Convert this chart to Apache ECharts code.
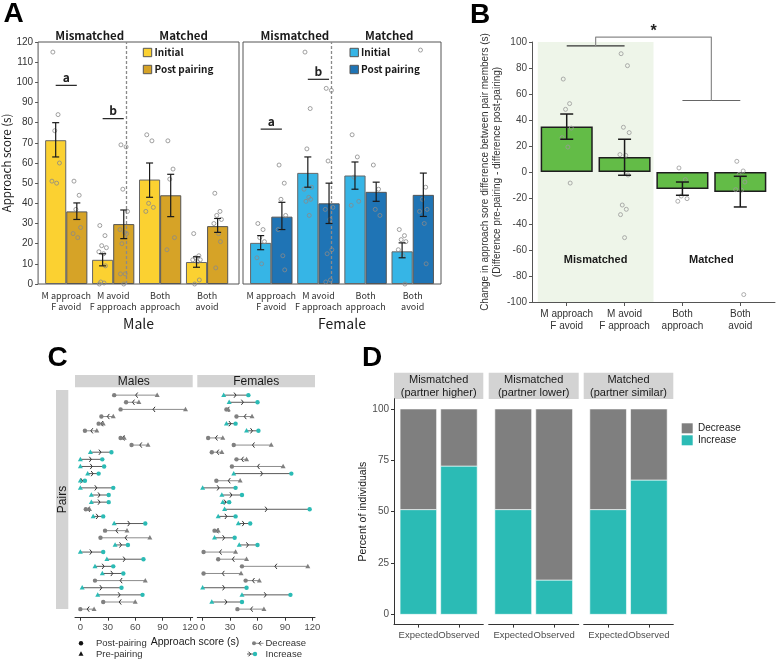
<!DOCTYPE html>
<html><head><meta charset="utf-8">
<script src="https://cdn.jsdelivr.net/npm/echarts@6/dist/echarts.min.js"></script>
<style>html,body{margin:0;padding:0;background:#fff}#c{width:777px;height:661px}</style>
</head><body><div id="c"></div>
<script>
// ---------------- DATA ----------------
const groupsA = ['M approach\nF avoid', 'M avoid\nF approach', 'Both\napproach', 'Both\navoid'];
const headersA = ['Mismatched', 'Matched'];
// Panel A - male
const maleInitial = [71.3, 12, 51.8, 10.9];
const maleInitialLo = [63, 9, 43, 8.3];
const maleInitialHi = [80, 15, 60, 13.5];
const malePost = [36, 29.7, 44, 28.7];
const malePostLo = [32, 22.5, 33.4, 25.6];
const malePostHi = [40.2, 36.7, 54.4, 32.5];
const maleInitDots = [[115,84,76,60,51,50],[29,24,19,18,16,15,9,1,0.5,0],[74,71,40,38,36],[25,14,13,12,12,11,2,0]];
const malePostDots = [[51,44,37,28,25,23],[69,68,47,36,27,25.5,25,20,5,5,0],[71,57,52,23,17],[45,36,34,32,30,25,21,8]];
// Panel A - female
const femInitial = [20.4, 55.1, 53.8, 16.2];
const femInitialLo = [17, 48, 47, 13];
const femInitialHi = [24, 63, 60.5, 20.4];
const femPost = [33.4, 40, 45.7, 44.2];
const femPostLo = [27, 30, 41, 33.5];
const femPostHi = [40.5, 50, 50.5, 55];
const femInitDots = [[30,27,23,21,13,10],[115,87,67,48,47,43,42,41,34],[74,63,53,41,39],[27,24,22,21,17,14,0]];
const femPostDots = [[59,50,42,34,27,14,7],[97,96,61,38,37,32,17,15,2,1],[59,47,37,34],[116,48,42,37,36,30,10]];
const maleSig = [[0.775, 1.225, 98.5], [1.775, 2.225, 82]];
const femSig = [[0.775, 1.225, 76.8], [1.775, 2.225, 101.5]];
const sigLabels = ['a', 'b'];
// Panel B
const bMeans = [35, 11.5, -13, -15.4];
const bLo = [25.2, -2.5, -17.9, -26.9];
const bHi = [44.6, 25.2, -7.7, -3.3];
const bDots = [[71.5,52.6,48.2,33.8,26.4,19.2,-8.5],[91,81.8,34.4,30.3,13.4,12.8,-2.3,-25.4,-28.7,-32.8,-50.5],[3.1,-5.9,-18.5,-20.5,-22.5],[8.2,0.8,-1.8,-7.7,-13.6,-14,-94.3]];
const bLabels = ['Mismatched', 'Matched'];
// Panel C (rows top to bottom)
const malePre  = [84,64,115,36,25,18,48,74,11,0,0,8,0,0,12,12,10,14,37,51,76,38,0,29,16,24,71,2,19,60,15];
const malePostC= [37,50,44,23,20,5,44,56,34,24,26,20,5,36,31,31,6,25,71,27,22,52,25,69,36,47,16,45,68,25,0];
const femPre   = [23,29,28,54,26,48,22,75,21,48,88,34,41,0,21,22,24,17,39,17,13,40,36,48,115,42,62,0,43,10,67];
const femPostC = [50,60,26,37,36,61,6,34,10,37,32,97,15,36,43,29,117,36,52,13,35,60,1,17,43,1,47,48,96,43,38];
const cTicks = [0, 30, 60, 90, 120];
// Panel D
const dFacets = ['Mismatched\n(partner higher)', 'Mismatched\n(partner lower)', 'Matched\n(partner similar)'];
const dCats = ['Expected', 'Observed'];
const dIncrease = [[51, 72.2], [51, 16.7], [51, 65.4]];
const dDecrease = [[49, 27.8], [49, 83.3], [49, 34.6]];
const dTicks = [0, 25, 50, 75, 100];

// ---------------- STYLE ----------------
const FN = '"Noto Sans CJK JP","Liberation Sans",sans-serif';
const FS = '"Liberation Sans",Arial,sans-serif';
const JIT = [-0.06,0.05,-0.02,0.08,-0.08,0.02,0.06,-0.04,0.03,-0.07,0.0,0.07];
const TEAL = '#2BBBB5', GRAY = '#7F7F7F';

function dots(gi, arr, off, color) {
  const data = [];
  arr.forEach((vals, g) => vals.forEach((v, j) => data.push([g + 1 + off + JIT[j % JIT.length], v])));
  return {type:'scatter', xAxisIndex:gi, yAxisIndex:gi, z:5, silent:true, data, symbolSize:4,
    itemStyle:{color:'rgba(0,0,0,0)', borderColor:color, borderWidth:1}};
}
function errSeries(gi, lows, highs, off, cap, color, lw) {
  return {type:'custom', xAxisIndex:gi, yAxisIndex:gi, z:6, silent:true,
    data: lows.map((l, i) => [i + 1, l, highs[i]]), encode:{x:0, y:[1,2]},
    renderItem:(p, api) => {
      const x = api.value(0) + off;
      const lo = api.coord([x, api.value(1)]), hi = api.coord([x, api.value(2)]);
      const s = {stroke:color, lineWidth:lw};
      return {type:'group', children:[
        {type:'line', shape:{x1:lo[0], y1:lo[1], x2:hi[0], y2:hi[1]}, style:s},
        {type:'line', shape:{x1:lo[0]-cap, y1:lo[1], x2:lo[0]+cap, y2:lo[1]}, style:s},
        {type:'line', shape:{x1:hi[0]-cap, y1:hi[1], x2:hi[0]+cap, y2:hi[1]}, style:s}]};
    }};
}
function textSeries(gi, pts, texts, font, color, extra) {
  return {type:'custom', xAxisIndex:gi, yAxisIndex:gi, z:7, silent:true, clip:false,
    data: pts, encode:{x:0, y:1},
    renderItem:(p, api) => {
      const c = api.coord([api.value(0), api.value(1)]);
      return {type:'text', x:c[0], y:c[1], style:Object.assign({text:texts[p.dataIndex], font, fill:color, align:'center', verticalAlign:'middle'}, extra || {})};
    }};
}
function sigSeries(gi, sig) {
  return {type:'custom', xAxisIndex:gi, yAxisIndex:gi, z:7, silent:true, clip:false,
    data: sig, encode:{x:[0,1], y:2},
    renderItem:(p, api) => {
      const a = api.coord([api.value(0), api.value(2)]), b = api.coord([api.value(1), api.value(2)]);
      return {type:'group', children:[
        {type:'line', shape:{x1:a[0], y1:a[1], x2:b[0], y2:b[1]}, style:{stroke:'#222', lineWidth:1.2}},
        {type:'text', x:(a[0]+b[0])/2, y:a[1]-2, style:{text:sigLabels[p.dataIndex], font:'bold 12px ' + FN, fill:'#222', align:'center', verticalAlign:'bottom'}}]};
    }};
}
function dumbbell(gi, pre, post) {
  return {type:'custom', xAxisIndex:gi, yAxisIndex:gi, z:5, silent:true,
    data: pre.map((v, i) => [i + 1, v, post[i]]), encode:{x:[1,2], y:0},
    renderItem:(p, api) => {
      const row = api.value(0), pr = api.value(1), po = api.value(2);
      const a = api.coord([pr, row]), b = api.coord([po, row]);
      const inc = po > pr, y = a[1];
      const pc = inc ? TEAL : '#808080';
      const lc = inc ? '#5a5a5a' : '#8c8c8c';
      const mx = (a[0] + b[0]) / 2, d = inc ? 1 : -1;
      return {type:'group', children:[
        {type:'line', shape:{x1:a[0], y1:y, x2:b[0], y2:y}, style:{stroke:lc, lineWidth:1}},
        {type:'polyline', shape:{points:[[mx - d*2, y-2.6],[mx, y],[mx - d*2, y+2.6]]}, style:{stroke:'#333', fill:null, lineWidth:1}},
        {type:'polygon', shape:{points:[[a[0], y-2.7],[a[0]-2.5, y+1.8],[a[0]+2.5, y+1.8]]}, style:{fill:pc}},
        {type:'circle', shape:{cx:b[0], cy:y, r:2.2}, style:{fill:pc}}]};
    }};
}
function stackBars(gi, inc, dec) {
  return {type:'custom', xAxisIndex:gi, yAxisIndex:gi, z:3, silent:true,
    data: inc.map((v, i) => [i + 1, v, dec[i]]), encode:{x:0, y:[1,2]},
    renderItem:(p, api) => {
      const x = api.value(0), a = api.value(1), b = api.value(2);
      const w = api.size([0.9, 0])[0];
      const p0 = api.coord([x, 0]), p1 = api.coord([x, a]), p2 = api.coord([x, a + b]);
      return {type:'group', children:[
        {type:'rect', shape:{x:p0[0]-w/2, y:p1[1], width:w, height:p0[1]-p1[1]}, style:{fill:TEAL, stroke:'#fff', lineWidth:0.6}},
        {type:'rect', shape:{x:p0[0]-w/2, y:p2[1], width:w, height:p1[1]-p2[1]}, style:{fill:GRAY, stroke:'#fff', lineWidth:0.6}}]};
    }};
}

// ---------------- GRIDS & AXES ----------------
const grids = [
  {left:36, top:42, width:203, height:242, show:true, borderColor:'#555', borderWidth:1},
  {left:243, top:42, width:198, height:242, show:true, borderColor:'#555', borderWidth:1},
  {left:532, top:42, width:243, height:260},
  {left:75, top:388, width:117.7, height:229.7},
  {left:197.3, top:388, width:117.7, height:229.7},
  {left:394, top:398.7, width:89.3, height:225.9},
  {left:488.7, top:398.7, width:90, height:225.9},
  {left:583.7, top:398.7, width:89.6, height:225.9}
];
const xAxes = [
  {gridIndex:0, type:'value', min:0.4, max:4.68, splitLine:{show:false}, axisLine:{show:false, onZero:false}, axisTick:{show:false},
    axisLabel:{show:false}, name:'Male', nameLocation:'middle', nameGap:33,
    nameTextStyle:{fontSize:14, fontFamily:FN, color:'#1a1a1a'}},
  {gridIndex:1, type:'value', min:0.4, max:4.6, splitLine:{show:false}, axisLine:{show:false, onZero:false}, axisTick:{show:false},
    axisLabel:{show:false}, name:'Female', nameLocation:'middle', nameGap:33,
    nameTextStyle:{fontSize:14, fontFamily:FN, color:'#1a1a1a'}},
  {gridIndex:2, type:'value', min:0.4, max:4.6, splitLine:{show:false}, axisLine:{onZero:false, lineStyle:{color:'#555'}},
    axisTick:{customValues:[1,2,3,4], length:4, lineStyle:{color:'#555'}},
    axisLabel:{customValues:[1,2,3,4], formatter:v => groupsA[Math.round(v)-1] || '', fontSize:10, fontFamily:FS, color:'#333', lineHeight:12, margin:6}},
];
[3,4].forEach(gi => xAxes.push({gridIndex:gi, type:'value', min:-5.85, max:122.85, splitLine:{show:false},
  axisLine:{onZero:false, lineStyle:{color:'#333'}}, axisTick:{customValues:cTicks, length:3, lineStyle:{color:'#333'}},
  axisLabel:{customValues:cTicks, fontSize:9.5, fontFamily:FS, color:'#4d4d4d', margin:5}}));
[5,6,7].forEach(gi => xAxes.push({gridIndex:gi, type:'value', min:0.4, max:2.6, splitLine:{show:false},
  axisLine:{onZero:false, lineStyle:{color:'#333'}}, axisTick:{customValues:[1,2], length:3, lineStyle:{color:'#333'}},
  axisLabel:{customValues:[1,2], formatter:v => dCats[Math.round(v)-1] || '', fontSize:9.5, fontFamily:FS, color:'#4d4d4d', margin:6}}));

const yAxes = [
  {gridIndex:0, type:'value', min:0, max:120, interval:10, splitLine:{show:false}, axisLine:{show:false},
    axisTick:{show:true, length:3, lineStyle:{color:'#555'}}, axisLabel:{fontSize:10, fontFamily:FS, color:'#333', margin:5},
    name:'Approach score (s)', nameLocation:'middle', nameGap:21, nameTextStyle:{fontSize:11.5, fontFamily:FN, color:'#1a1a1a'}},
  {gridIndex:1, type:'value', min:0, max:120, interval:10, splitLine:{show:false}, axisLine:{show:false}, axisTick:{show:false}, axisLabel:{show:false}},
  {gridIndex:2, type:'value', min:-100, max:100, interval:20, splitLine:{show:false}, axisLine:{show:true, lineStyle:{color:'#555'}},
    axisTick:{show:true, length:3, lineStyle:{color:'#555'}}, axisLabel:{fontSize:10, fontFamily:FS, color:'#444', margin:5},
    name:'Change in approach sore difference between pair members (s)\n(Difference pre-pairing - difference post-pairing)',
    nameLocation:'middle', nameGap:24, nameTextStyle:{fontSize:10, fontFamily:FS, color:'#333', lineHeight:12}},
  {gridIndex:3, type:'value', min:0, max:32.2, inverse:true, show:false},
  {gridIndex:4, type:'value', min:0, max:32.2, inverse:true, show:false},
  {gridIndex:5, type:'value', min:-5, max:105, splitLine:{show:false}, axisLine:{show:true, lineStyle:{color:'#333'}},
    axisTick:{show:true, customValues:dTicks, length:3, lineStyle:{color:'#333'}},
    axisLabel:{customValues:dTicks, fontSize:10, fontFamily:FS, color:'#4d4d4d', margin:5},
    name:'Percent of individuals', nameLocation:'middle', nameGap:23, nameTextStyle:{fontSize:10.5, fontFamily:FS, color:'#1a1a1a'}},
  {gridIndex:6, type:'value', min:-5, max:105, show:false},
  {gridIndex:7, type:'value', min:-5, max:105, show:false}
];

// ---------------- SERIES ----------------
const series = [];
function panelA(gi, init, post, cInit, cPost, iLo, iHi, pLo, pHi, iDots, pDots, sig) {
  series.push({type:'bar', xAxisIndex:gi, yAxisIndex:gi, data:init.map((v,i)=>[i+1,v]), barWidth:'45%', barGap:'0%', z:3, silent:true,
    itemStyle:{color:cInit, borderColor:'#666', borderWidth:1},
    markLine:{silent:true, symbol:['none','none'], label:{show:false}, lineStyle:{type:[3,2], color:'#8a8a8a', width:1.3}, data:[{xAxis:2.5}]}});
  series.push({type:'bar', xAxisIndex:gi, yAxisIndex:gi, data:post.map((v,i)=>[i+1,v]), barWidth:'45%', barGap:'0%', z:3, silent:true,
    itemStyle:{color:cPost, borderColor:'#555', borderWidth:1}});
  series.push(dots(gi, iDots, -0.225, '#8a8a8a'));
  series.push(dots(gi, pDots, 0.225, '#8a8a8a'));
  series.push(errSeries(gi, iLo, iHi, -0.225, 3.5, '#1a1a1a', 1.2));
  series.push(errSeries(gi, pLo, pHi, 0.225, 3.5, '#1a1a1a', 1.2));
  series.push(sigSeries(gi, sig));
  series.push(textSeries(gi, [[1.5, 123.4], [3.5, 123.4]], headersA, 'bold 11.5px ' + FN, '#1a1a1a'));
  series.push(textSeries(gi, [[1, -3.2], [2, -3.2], [3, -3.2], [4, -3.2]], groupsA, '9px ' + FN, '#333',
    {verticalAlign:'top', lineHeight:10.5}));
}
panelA(0, maleInitial, malePost, '#FBD131', '#D6A327', maleInitialLo, maleInitialHi, malePostLo, malePostHi, maleInitDots, malePostDots, maleSig);
panelA(1, femInitial, femPost, '#36B5E6', '#1F74B5', femInitialLo, femInitialHi, femPostLo, femPostHi, femInitDots, femPostDots, femSig);

// Panel B
series.push({type:'bar', xAxisIndex:2, yAxisIndex:2, z:3, silent:true, data:bMeans.map((v,i)=>[i+1,v]), barWidth:'90%',
  itemStyle:{color:'#63BC47', borderColor:'#1e1e1e', borderWidth:1.5},
  markArea:{silent:true, itemStyle:{color:'#EEF5E9'}, data:[[{xAxis:0.5, yAxis:-100},{xAxis:2.5, yAxis:100}]]}});
series.push(dots(2, bDots, 0, '#9a9a9a'));
series.push(errSeries(2, bLo, bHi, 0, 6.5, '#1a1a1a', 1.5));
const bracket = (pts, color) => ({type:'line', xAxisIndex:2, yAxisIndex:2, data:pts, showSymbol:false, symbol:'none', clip:false, silent:true, z:4,
  lineStyle:{color, width:1.2}});
series.push(bracket([[1,97],[2,97]], '#333'));
series.push(bracket([[3,55],[4,55]], '#666'));
series.push(bracket([[1.5,97],[1.5,103.8],[3.5,103.8],[3.5,55]], '#8a8a8a'));
series.push(textSeries(2, [[2.5, 108]], ['*'], 'bold 16px ' + FS, '#222'));
series.push(textSeries(2, [[1.5, -68], [3.5, -68]], bLabels, 'bold 11px ' + FS, '#1a1a1a'));

// Panel C
series.push(dumbbell(3, malePre, malePostC));
series.push(dumbbell(4, femPre, femPostC));

// Panel D
[0,1,2].forEach(f => series.push(stackBars(5 + f, dIncrease[f], dDecrease[f])));

// ---------------- DECORATION (letters, strips, legends) ----------------
const G = [];
function gtext(x, y, text, font, opt) { G.push({type:'text', x, y, silent:true, style:Object.assign({text, font, fill:'#1a1a1a', align:'left', verticalAlign:'middle'}, opt || {})}); }
function grect(x, y, w, h, fill, stroke) { G.push({type:'rect', silent:true, shape:{x, y, width:w, height:h}, style:{fill, stroke:stroke || null, lineWidth:stroke ? 1 : 0}}); }
const LET = 'bold 28px ' + FS;
gtext(13.5, 14, 'A', LET, {align:'center', fill:'#000'});
gtext(480, 15, 'B', LET, {align:'center', fill:'#000'});
gtext(57.5, 358, 'C', LET, {align:'center', fill:'#000'});
gtext(372, 358, 'D', LET, {align:'center', fill:'#000'});
// A legends
grect(143.3, 48.3, 8.4, 8.4, '#FBD131', '#555'); gtext(154.5, 52.5, 'Initial', 'bold 10px ' + FN);
grect(143.3, 65.3, 8.4, 8.4, '#D6A327', '#555'); gtext(154.5, 69.5, 'Post pairing', 'bold 10px ' + FN);
grect(350, 48.3, 8.4, 8.4, '#36B5E6', '#555'); gtext(361, 52.5, 'Initial', 'bold 10px ' + FN);
grect(350, 65.3, 8.4, 8.4, '#1F74B5', '#555'); gtext(361, 69.5, 'Post pairing', 'bold 10px ' + FN);
// C strips
grect(75, 375, 117.7, 12.3, '#D3D3D3'); gtext(133.8, 381.4, 'Males', '12px ' + FS, {align:'center'});
grect(197.3, 375, 117.7, 12.3, '#D3D3D3'); gtext(256.2, 381.4, 'Females', '12px ' + FS, {align:'center'});
grect(56, 390, 12.3, 219, '#D3D3D3');
G.push({type:'text', x:62.4, y:499.5, rotation:Math.PI/2, silent:true, style:{text:'Pairs', font:'12px ' + FS, fill:'#1a1a1a', align:'center', verticalAlign:'middle'}});
// C legend
G.push({type:'circle', silent:true, shape:{cx:81, cy:643.3, r:2.2}, style:{fill:'#111'}});
gtext(96, 643.3, 'Post-pairing', '9.5px ' + FS, {fill:'#333'});
G.push({type:'polygon', silent:true, shape:{points:[[81,651.3],[78.5,655.8],[83.5,655.8]]}, style:{fill:'#111'}});
gtext(96, 654, 'Pre-pairing', '9.5px ' + FS, {fill:'#333'});
G.push({type:'line', silent:true, shape:{x1:254, y1:643.3, x2:263.5, y2:643.3}, style:{stroke:'#8c8c8c', lineWidth:1}});
G.push({type:'circle', silent:true, shape:{cx:254, cy:643.3, r:2}, style:{fill:'#808080'}});
G.push({type:'polyline', silent:true, shape:{points:[[261,641],[259,643.3],[261,645.6]]}, style:{stroke:'#333', fill:null, lineWidth:1}});
gtext(265.5, 643.3, 'Decrease', '9.5px ' + FS, {fill:'#333'});
G.push({type:'line', silent:true, shape:{x1:247, y1:654, x2:255, y2:654}, style:{stroke:'#5a5a5a', lineWidth:1}});
G.push({type:'polyline', silent:true, shape:{points:[[248.5,651.7],[250.7,654],[248.5,656.3]]}, style:{stroke:'#333', fill:null, lineWidth:1}});
G.push({type:'circle', silent:true, shape:{cx:255, cy:654, r:2.2}, style:{fill:TEAL}});
gtext(265.5, 654, 'Increase', '9.5px ' + FS, {fill:'#333'});
gtext(195, 641.7, 'Approach score (s)', '10.5px ' + FS, {align:'center'});
// D strips
[[394, 89.3], [488.7, 90], [583.7, 89.6]].forEach((s, i) => {
  grect(s[0], 372.7, s[1], 26.3, '#D3D3D3');
  gtext(s[0] + s[1] / 2, 386, dFacets[i], '11px ' + FS, {align:'center', lineHeight:13});
});
// D legend
grect(681.7, 423.3, 11, 10, GRAY); gtext(698, 428.3, 'Decrease', '10px ' + FS);
grect(681.7, 435.3, 11, 10, TEAL); gtext(698, 440.3, 'Increase', '10px ' + FS);

const chart = echarts.init(document.getElementById('c'), null, {renderer:'canvas'});
chart.setOption({
  animation:false, backgroundColor:'#fff',
  grid:grids, xAxis:xAxes, yAxis:yAxes, series, graphic:{elements:G}
});
</script>
</body></html>
